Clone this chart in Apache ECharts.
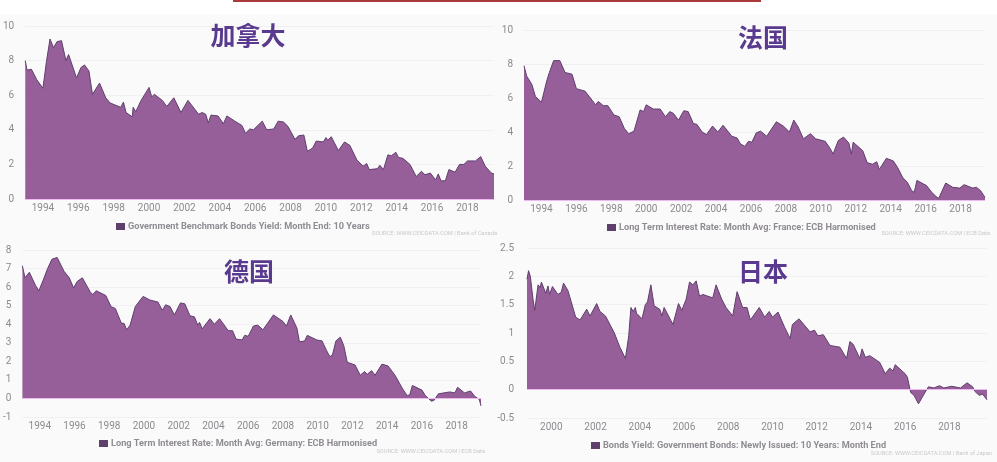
<!DOCTYPE html>
<html>
<head>
<meta charset="utf-8">
<style>
html,body{margin:0;padding:0;background:#fff;}
#main{width:997px;height:462px;}
</style>
<script src="https://cdn.jsdelivr.net/npm/echarts@6/dist/echarts.min.js"></script>
</head>
<body>
<div id="main"></div>
<script>
// 读图估计的拐点:年份(小数)和利率
var canadaYears = [1993,1993.1,1993.35,1993.65,1994,1994.2,1994.4,1994.6,1994.8,1995.05,1995.3,1995.45,1995.9,1996.15,1996.35,1996.6,1996.8,1997.2,1997.55,1997.8,1998.4,1998.55,1998.7,1999.05,1999.1,1999.25,1999.55,2000,2000.15,2000.3,2000.75,2001,2001.4,2001.8,2002.2,2002.8,2003,2003.2,2003.35,2003.5,2003.9,2004.2,2004.4,2004.85,2005.25,2005.45,2005.7,2005.9,2006.2,2006.4,2006.65,2007.05,2007.3,2007.6,2007.85,2008.25,2008.45,2008.75,2008.95,2009.25,2009.45,2009.85,2010,2010.1,2010.3,2010.6,2010.7,2011.05,2011.35,2011.75,2012.1,2012.3,2012.45,2012.9,2013.05,2013.25,2013.5,2013.7,2013.95,2014.1,2014.35,2014.75,2015.1,2015.4,2015.6,2015.9,2016.2,2016.35,2016.5,2016.75,2016.95,2017.3,2017.55,2017.8,2018,2018.45,2018.75,2019,2019.1,2019.35,2019.5];
var canadaValues = [8,7.45,7.5,6.9,6.4,7.95,9.25,8.75,9.1,9.15,8,8.35,7,7.6,7.75,7.4,6.05,6.7,5.85,5.55,5.3,5.6,5,4.75,5.3,5.05,5.7,6.45,5.9,6.05,5.7,5.35,5.85,5,5.7,4.9,5,4.9,4.4,4.85,4.8,4.35,4.8,4.5,4.25,3.8,4.05,4,4.3,4.5,4,4.05,4.5,4.45,4.2,3.45,3.65,3.7,2.75,2.95,3.35,3.3,3.55,3.4,3.6,3,2.8,3.3,3.1,2.25,1.9,2.05,1.7,1.75,1.95,1.7,2.55,2.5,2.7,2.4,2.35,2,1.3,1.6,1.4,1.5,1.1,1.45,1.05,1.05,1.7,1.55,2,2,2.2,2.2,2.45,1.9,1.9,1.5,1.45];

var franceYears = [1993,1993.15,1993.45,1993.65,1994,1994.3,1994.45,1994.7,1995.05,1995.35,1995.75,1996,1996.5,1997.1,1997.25,1997.55,1997.8,1998.15,1998.45,1998.75,1999,1999.3,1999.65,1999.85,2000,2000.4,2000.8,2001.1,2001.35,2001.55,2001.85,2002.15,2002.4,2002.7,2002.9,2003.2,2003.3,2003.45,2003.8,2004.1,2004.4,2004.9,2005.2,2005.4,2005.65,2005.85,2006.05,2006.3,2006.55,2006.9,2007.45,2007.85,2008.2,2008.45,2008.7,2009,2009.4,2009.7,2010.25,2010.55,2010.7,2011,2011.3,2011.6,2011.75,2011.85,2012.4,2012.65,2012.95,2013.2,2013.35,2013.75,2014.15,2014.4,2014.7,2014.95,2015.2,2015.35,2015.5,2016.05,2016.35,2016.6,2016.75,2017.15,2017.55,2017.95,2018.2,2018.7,2018.9,2019.15,2019.4];
var franceValues = [7.9,7.3,6.8,6.1,5.75,7,7.5,8.2,8.2,7.5,7.4,6.55,6.4,5.6,5.8,5.55,5.55,5,4.9,4.2,3.9,4.05,5.3,5.2,5.6,5.35,5.35,4.9,5.2,5.1,4.7,5.25,5.2,4.5,4.45,4,4.1,3.85,4.35,4,4.4,3.75,3.65,3.3,3.15,3.45,3.4,3.95,4.05,3.75,4.6,4.35,4,4.7,4.3,3.6,3.9,3.6,3.45,3,2.7,3.5,3.7,3.35,2.7,3.4,2.9,2.2,2.1,2.25,1.8,2.45,2.3,1.9,1.3,1.05,0.55,0.45,1.15,0.85,0.45,0.2,0.1,1,0.75,0.7,0.9,0.7,0.75,0.55,0.15];

var germanyYears = [1993,1993.15,1993.4,1993.75,1993.95,1994.25,1994.45,1994.7,1995,1995.4,1995.7,1995.95,1996.15,1996.45,1996.9,1997.05,1997.25,1997.8,1998.1,1998.35,1998.7,1998.85,1999,1999.2,1999.5,1999.7,1999.95,2000.35,2000.8,2001.05,2001.25,2001.5,2001.75,2002.1,2002.35,2002.65,2002.9,2003.1,2003.2,2003.35,2003.8,2004.05,2004.35,2004.85,2005.1,2005.3,2005.65,2005.8,2006,2006.3,2006.55,2006.85,2007.45,2008,2008.2,2008.45,2008.8,2008.95,2009.25,2009.4,2009.95,2010.25,2010.5,2010.7,2010.85,2011.05,2011.3,2011.5,2011.7,2012.15,2012.45,2012.7,2012.85,2013.1,2013.3,2013.7,2014.05,2014.45,2014.9,2015.15,2015.3,2015.45,2016,2016.2,2016.55,2016.7,2016.95,2017.6,2017.9,2018.05,2018.45,2018.8,2019.05,2019.3,2019.4];
var germanyValues = [7.15,6.5,6.8,6.1,5.8,6.5,7,7.5,7.6,6.85,6.5,5.95,6.3,6.5,5.75,5.6,5.8,5.55,4.95,4.85,4.05,4.05,3.7,3.95,4.95,5.2,5.5,5.3,5.2,4.75,5.05,4.95,4.5,5.15,5.1,4.45,4.4,3.95,4.1,3.75,4.3,4,4.3,3.65,3.65,3.2,3.15,3.4,3.35,3.9,3.95,3.7,4.5,4.15,3.9,4.5,3.8,3.05,3.1,3.4,3.15,3.1,2.6,2.25,2.35,3.1,3.3,2.85,1.95,1.8,1.25,1.45,1.3,1.5,1.25,1.85,1.75,1.25,0.5,0.15,0.2,0.7,0.45,0.15,-0.15,-0.1,0.25,0.35,0.3,0.6,0.3,0.4,0.1,-0.05,-0.4];

var japanYears = [1998.9,1998.97,1999.05,1999.17,1999.25,1999.4,1999.5,1999.55,1999.75,1999.85,1999.92,2000.05,2000.3,2000.45,2000.55,2000.75,2000.9,2001.1,2001.3,2001.6,2001.75,2002.05,2002.2,2002.45,2002.85,2003.1,2003.35,2003.5,2003.6,2003.7,2003.8,2003.85,2004.1,2004.25,2004.35,2004.5,2004.65,2004.9,2005,2005.1,2005.5,2005.75,2005.9,2006.1,2006.25,2006.4,2006.55,2006.7,2006.85,2007.3,2007.45,2007.7,2007.9,2008.2,2008.4,2008.65,2008.85,2009,2009.4,2009.65,2009.85,2010,2010.25,2010.55,2010.8,2010.9,2011.2,2011.7,2011.9,2012.05,2012.3,2012.6,2013.05,2013.35,2013.5,2013.65,2013.95,2014.05,2014.2,2014.4,2014.85,2015.1,2015.3,2015.45,2015.55,2016,2016.1,2016.25,2016.4,2016.6,2016.85,2017.05,2017.3,2017.55,2017.75,2018.1,2018.5,2018.8,2019.05,2019.15,2019.35,2019.5,2019.7];
var japanValues = [1.95,2.1,2,1.6,1.4,1.85,1.8,1.9,1.7,1.83,1.68,1.82,1.68,1.72,1.88,1.75,1.55,1.28,1.23,1.42,1.3,1.52,1.38,1.3,1,0.75,0.55,0.95,1.45,1.38,1.45,1.35,1.25,1.5,1.55,1.85,1.48,1.42,1.3,1.45,1.15,1.52,1.4,1.6,1.9,1.85,1.92,1.65,1.68,1.62,1.85,1.6,1.45,1.3,1.73,1.45,1.45,1.23,1.45,1.28,1.38,1.28,1.37,1.1,0.9,1.15,1.25,1.02,1.05,0.95,0.97,0.78,0.75,0.55,0.85,0.8,0.55,0.72,0.57,0.6,0.48,0.28,0.38,0.33,0.44,0.28,0.22,-0.05,-0.1,-0.25,-0.08,0.05,0.03,0.07,0.03,0.06,0.03,0.12,0.05,-0.03,-0.1,-0.08,-0.18];

var ticks9419 = [1994,1996,1998,2000,2002,2004,2006,2008,2010,2012,2014,2016,2018];
var ticks0018 = [2000,2002,2004,2006,2008,2010,2012,2014,2016,2018];

var fill = '#965f9a', edge = '#5f3f6c', labelColor = '#8c8a8e';

// 四个小图的位置和文字
var panels = [
    {title:'加拿大', tx:243, ty:18, years:canadaYears, values:canadaValues, ticks:ticks9419, min:0, max:10, step:2, xMin:1993, xMax:2019.5,
     left:22, top:26, width:472, height:173, margin:11,
     name:'Government Benchmark Bonds Yield: Month End: 10 Years', lx:116, ly:222,
     source:'SOURCE: WWW.CEICDATA.COM | Bank of Canada', sx:492, sy:226},
    {title:'法国', tx:758, ty:20, years:franceYears, values:franceValues, ticks:ticks9419, min:0, max:10, step:2, xMin:1993, xMax:2019.4,
     left:524, top:30, width:461, height:170, margin:11,
     name:'Long Term Interest Rate: Month Avg: France: ECB Harmonised', lx:607, ly:223,
     source:'SOURCE: WWW.CEICDATA.COM | ECB Data', sx:985, sy:226},
    {title:'德国', tx:244, ty:254, years:germanyYears, values:germanyValues, ticks:ticks9419, min:-1, max:8, step:1, xMin:1993, xMax:2019.4,
     left:20, top:250, width:461, height:167, margin:11,
     name:'Long Term Interest Rate: Month Avg: Germany: ECB Harmonised', lx:99, ly:439,
     source:'SOURCE: WWW.CEICDATA.COM | ECB Data', sx:480, sy:444},
    {title:'日本', tx:758, ty:254, years:japanYears, values:japanValues, ticks:ticks0018, min:-0.5, max:2.5, step:0.5, xMin:1998.9, xMax:2019.7,
     left:527, top:248, width:460, height:170, margin:13,
     name:'Bonds Yield: Government Bonds: Newly Issued: 10 Years: Month End', lx:591, ly:441,
     source:'SOURCE: WWW.CEICDATA.COM | Bank of Japan', sx:987, sy:446}
];

var grids = [], xAxes = [], yAxes = [], seriesList = [], legends = [], titles = [];

panels.forEach(function (p, i) {
    grids.push({left:p.left, top:p.top, width:p.width, height:p.height});
    xAxes.push({
        type:'value', gridIndex:i, min:p.xMin, max:p.xMax,
        axisLine:{show:false}, axisTick:{show:false}, splitLine:{show:false},
        axisLabel:{customValues:p.ticks, formatter:String, color:labelColor, fontSize:10, margin:4, fontFamily:'Roboto'}
    });
    yAxes.push({
        type:'value', gridIndex:i, min:p.min, max:p.max, interval:p.step,
        axisLine:{show:false}, axisTick:{show:false},
        splitLine:{lineStyle:{color:'#f1eff1', width:1}},
        axisLabel:{color:labelColor, fontSize:10, margin:p.margin, fontFamily:'Roboto'}
    });
    seriesList.push({
        name:p.name, type:'line', xAxisIndex:i, yAxisIndex:i,
        data:p.years.map(function (y, k) { return [y, p.values[k]]; }),
        showSymbol:false, smooth:false, animation:false,
        lineStyle:{color:edge, width:1},
        itemStyle:{color:edge},
        areaStyle:{color:fill, opacity:1},
        markLine:{silent:true, symbol:'none', animation:false, label:{show:false},
            lineStyle:{color:'#eeb8f0', type:'solid', width:1}, data:[{yAxis:0}]}
    });
    legends.push({
        data:[p.name], top:p.ly, left:p.lx, padding:0,
        itemWidth:9, itemHeight:7, itemGap:3, icon:'rect', selectedMode:false,
        textStyle:{color:'#8f8c92', fontSize:9.2, fontWeight:'bold', fontFamily:'Roboto', padding:[0,0,0,-2]}
    });
    titles.push({
        text:p.title, left:p.tx, top:p.ty, textAlign:'center',
        textStyle:{color:'#5a3a8e', fontSize:25, fontWeight:'bold', fontFamily:'Noto Sans CJK SC'}
    });
    titles.push({
        text:p.source, left:p.sx, top:p.sy, textAlign:'right',
        textStyle:{color:'#c9c7cb', fontSize:5.7, fontWeight:'normal', fontFamily:'Roboto'}
    });
});

var chart = echarts.init(document.getElementById('main'));
chart.setOption({
    backgroundColor:'#fff',
    animation:false,
    title:titles,
    legend:legends,
    grid:grids,
    xAxis:xAxes,
    yAxis:yAxes,
    series:seriesList,
    graphic:[
        {type:'rect', z:-10, shape:{x:0, y:14, width:997, height:448}, style:{fill:'#fbfafb'}},
        {type:'rect', z:10, shape:{x:233, y:0, width:528, height:2}, style:{fill:'#a83a3e'}}
    ]
});
</script>
</body>
</html>
